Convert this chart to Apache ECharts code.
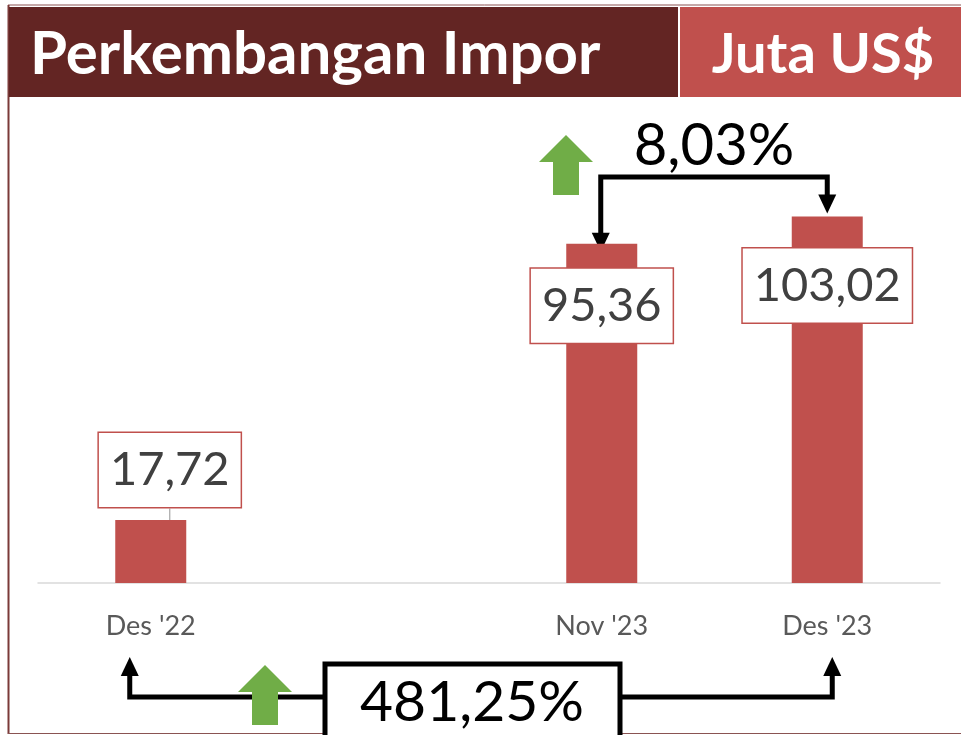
<!DOCTYPE html>
<html>
<head>
<meta charset="utf-8">
<script src="https://cdn.jsdelivr.net/npm/echarts@6/dist/echarts.min.js"></script>
<style>
  html, body { margin: 0; padding: 0; background: #fff; }
  #chart { width: 961px; height: 735px; }
</style>
</head>
<body>
<div id="chart"></div>
<script>
// data
const categories = ["Des '22", '', "Nov '23", "Des '23"]
const imports = [17.72, null, 95.36, 103.02]
const titleText = 'Perkembangan Impor'
const unitText = 'Juta US$'
const monthlyChange = '8,03%'
const yearlyChange = '481,25%'

const FONT = 'Lato'
const RED = '#c0504d'
const DARK = '#632523'

const fmt = (v) => v.toFixed(2).replace('.', ',')

const labelBox = {
  show: true,
  formatter: (p) => fmt(p.value),
  fontFamily: FONT,
  fontSize: 47,
  lineHeight: 54,
  color: '#404040',
  backgroundColor: '#fff',
  borderColor: RED,
  borderWidth: 1.5,
  padding: [10, 11, 10, 11]
}

const barData = imports.map((v, i) => {
  if (v === null) return null
  if (i === 0) return { value: v, label: { position: 'top', distance: 13 } }
  if (i === 2) return { value: v, label: { position: 'insideTop', distance: 25 } }
  return { value: v, label: { position: 'insideTop', distance: 32 } }
})

const chart = echarts.init(document.getElementById('chart'))

chart.setOption({
  animation: false,
  grid: { left: 38, right: 21, top: 156, bottom: 152 },
  xAxis: {
    type: 'category',
    data: categories,
    axisLine: { lineStyle: { color: '#d9d9d9', width: 1.5 } },
    axisTick: { show: false },
    axisLabel: { color: '#595959', fontFamily: FONT, fontSize: 27, margin: 30 }
  },
  yAxis: {
    type: 'value',
    min: 0,
    max: 120,
    show: false,
    splitLine: { show: false }
  },
  series: [
    {
      type: 'bar',
      data: barData,
      barWidth: 71,
      itemStyle: { color: RED },
      label: labelBox,
      labelLayout: (p) => (p.dataIndex === 0 ? { dx: 19 } : {}),
      labelLine: { show: true, lineStyle: { color: '#a6a6a6', width: 1.2 } }
    }
  ]
})

function px(i) {
  return chart.convertToPixel({ seriesIndex: 0 }, [i, imports[i] || 0])
}

function arrowHead(x, y, dir) {
  // dir: 1 = pointing down, -1 = pointing up
  return {
    type: 'polygon',
    shape: { points: [[x - 9, y - dir * 19], [x + 9, y - dir * 19], [x, y]] },
    style: { fill: '#000' }
  }
}

function greenArrow(cx, top, bottom) {
  return {
    type: 'polygon',
    shape: {
      points: [
        [cx, top], [cx + 27, top + 27], [cx + 13, top + 27], [cx + 13, bottom],
        [cx - 13, bottom], [cx - 13, top + 27], [cx - 27, top + 27]
      ]
    },
    style: { fill: '#70ad47' }
  }
}

const pA = px(0)
const pB = px(2)
const pC = px(3)

const topY = 177
const botY = 697
const topL = pB[0] - 1
const topR = pC[0]
const botL = pA[0] - 21
const botR = pC[0] + 5

chart.setOption({
  graphic: [
    // frame
    { type: 'line', shape: { x1: 8, y1: 5, x2: 961, y2: 5 }, style: { stroke: '#8a5352', lineWidth: 1 } },
    { type: 'line', shape: { x1: 8.5, y1: 5, x2: 8.5, y2: 734 }, style: { stroke: '#7b3a39', lineWidth: 2 } },
    { type: 'line', shape: { x1: 8, y1: 733.5, x2: 961, y2: 733.5 }, style: { stroke: '#8a5352', lineWidth: 1 } },
    // header
    { type: 'rect', shape: { x: 9, y: 7, width: 669, height: 90 }, style: { fill: DARK } },
    { type: 'rect', shape: { x: 680, y: 7, width: 281, height: 90 }, style: { fill: RED } },
    {
      type: 'text', x: 30, y: 55,
      style: { text: titleText, fill: '#fff', font: 'bold 60px ' + FONT, verticalAlign: 'middle' }
    },
    {
      type: 'text', x: 823, y: 55,
      style: { text: unitText, fill: '#fff', font: 'bold 56px ' + FONT, align: 'center', verticalAlign: 'middle' }
    },
    // monthly change bracket
    {
      type: 'polyline',
      shape: { points: [[topL, pB[1] - 10], [topL, topY], [topR, topY], [topR, pC[1] - 20]] },
      style: { stroke: '#000', lineWidth: 5, fill: null }
    },
    arrowHead(topL, pB[1] + 8, 1),
    arrowHead(topR, pC[1] - 3, 1),
    {
      type: 'text', x: (topL + topR) / 2, y: 146,
      style: { text: monthlyChange, fill: '#000', font: '58px ' + FONT, align: 'center', verticalAlign: 'middle' }
    },
    greenArrow(566, 135, 195),
    // yearly change bracket
    {
      type: 'polyline',
      shape: { points: [[botL, 676], [botL, botY], [botR, botY], [botR, 676]] },
      style: { stroke: '#000', lineWidth: 5, fill: null }
    },
    arrowHead(botL, 657, -1),
    arrowHead(botR, 657, -1),
    {
      type: 'rect', shape: { x: 325, y: 664, width: 295, height: 80 },
      style: { fill: '#fff', stroke: '#000', lineWidth: 5 }
    },
    {
      type: 'text', x: 472, y: 703,
      style: { text: yearlyChange, fill: '#000', font: '57px ' + FONT, align: 'center', verticalAlign: 'middle' }
    },
    greenArrow(265, 665, 725)
  ]
})
</script>
</body>
</html>
